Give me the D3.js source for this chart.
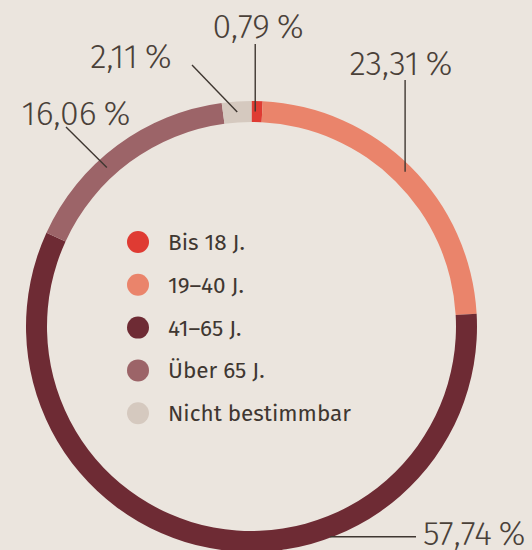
<html>
<head>
<meta charset="utf-8">
<style>
body { margin: 0; background: #ebe5de; }
svg { display: block; }
.pct { font-family: "Fira Sans", "Open Sans", sans-serif; font-weight: 300; font-size: 34px; fill: #4a4139; }
.leg { font-family: "Fira Sans", "Open Sans", sans-serif; font-weight: 400; font-size: 22.5px; fill: #3f3731; }
.lead { stroke: #3f3731; stroke-width: 1.4; fill: none; }
</style>
</head>
<body>
<div id="chart"></div>
<script src="https://d3js.org/d3.v7.min.js"></script>
<script>

// data
const categories = ['Bis 18 J.', '19–40 J.', '41–65 J.', 'Über 65 J.', 'Nicht bestimmbar'];
const values = [0.79, 23.31, 57.74, 16.06, 2.11];
const labels = ['0,79\u2009%', '23,31\u2009%', '57,74\u2009%', '16,06\u2009%', '2,11\u2009%'];
const colors = ['#df3b33', '#ea846b', '#6e2b34', '#9c6468', '#d5c9bf'];

const width = 532, height = 550;
const cx = 251.5, cy = 326.5;
const outerR = 225.5, innerR = 204.5;

const svg = d3.select('#chart').append('svg')
	.attr('width', width)
	.attr('height', height);

const pie = d3.pie().sort(null).value(d => d);
const arcs = pie(values);
const arc = d3.arc().innerRadius(innerR).outerRadius(outerR);

const g = svg.append('g').attr('transform', `translate(${cx},${cy})`);
g.selectAll('path')
	.data(arcs)
	.enter()
	.append('path')
	.attr('d', arc)
	.attr('fill', (d, i) => colors[i]);

// label layout: where along the slice the leader hits, and where the text sits
const labelLayout = [
	{ frac: 0.35, r: 215, tx: 258, ty: 38, anchor: 'middle', kind: 'up', top: 44 },
	{ frac: 0.5, r: 218, tx: 401, ty: 75, anchor: 'middle', kind: 'up', top: 80 },
	{ frac: 0.35, r: outerR - 1, tx: 423, ty: 545, anchor: 'start', kind: 'flat', right: 416 },
	{ frac: 0.4, r: 215, tx: 76, ty: 125, anchor: 'middle', kind: 'diag', sx: 66, sy: 127 },
	{ frac: 0.5, r: 215, tx: 131, ty: 68, anchor: 'middle', kind: 'diag', sx: 192, sy: 65 }
];

const lineGen = d3.line();
arcs.forEach((a, i) => {
	const L = labelLayout[i];
	const ang = a.startAngle + (a.endAngle - a.startAngle) * L.frac;
	let ex = cx + L.r * Math.sin(ang);
	let ey = cy - L.r * Math.cos(ang);
	let pts;
	if (L.kind === 'up') {
		pts = [[ex, L.top], [ex, ey]];
	} else if (L.kind === 'flat') {
		pts = [[ex, ey], [L.right, ey]];
	} else {
		pts = [[L.sx, L.sy], [ex, ey]];
	}
	svg.append('path').attr('class', 'lead').attr('d', lineGen(pts));
	svg.append('text')
		.attr('class', 'pct')
		.attr('x', L.tx)
		.attr('y', L.ty)
		.attr('text-anchor', L.anchor)
		.text(labels[i]);
});

// legend
const legend = svg.append('g').attr('transform', 'translate(138,242)');
const item = legend.selectAll('g')
	.data(categories)
	.enter()
	.append('g')
	.attr('transform', (d, i) => `translate(0,${i * 42.8})`);
item.append('circle')
	.attr('r', 11)
	.attr('fill', (d, i) => colors[i]);
item.append('text')
	.attr('class', 'leg')
	.attr('x', 30)
	.attr('y', 8)
	.text(d => d);

</script>
</body>
</html>
